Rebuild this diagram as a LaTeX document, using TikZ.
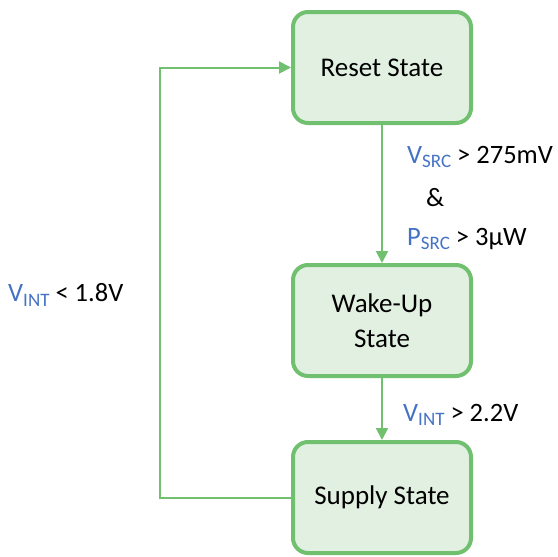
\documentclass[tikz,border=0pt]{standalone}
\usepackage{fontspec}
\setmainfont{Carlito}
\usetikzlibrary{positioning, arrows.meta}
\definecolor{stgreen}{RGB}{112,192,112}
\definecolor{stfill}{RGB}{226,240,226}
\definecolor{sigblue}{RGB}{68,114,196}
\newcommand{\sig}[2]{{\color{sigblue}#1\raisebox{-0.35ex}{\fontsize{19}{19}\selectfont #2}}}

\begin{document}
\begin{tikzpicture}[x=1pt,y=-1pt,
    state/.style={draw=stgreen, line width=4pt, fill=stfill, rounded corners=15pt,
      minimum width=178pt, minimum height=111pt, align=center,
      font=\fontsize{27}{35}\selectfont},
    trans/.style={stgreen, line width=2pt, -{Triangle[length=12pt,width=12pt]}},
    cond/.style={anchor=west, inner sep=0pt, font=\fontsize{26.5}{30}\selectfont}]
    \useasboundingbox (0,0) rectangle (558,557);
    % states
    \node[state] (reset) at (382,67.5) {Reset State};
    \node[state] (wake) at (382,320.5) {Wake-Up\\State};
    \node[state] (supply) at (382,497.5) {Supply State};
    % transitions
    \draw[trans] (reset) -- (wake);
    \draw[trans] (wake) -- (supply);
    \coordinate (loop) at (160,497.5);
    \draw[trans] (supply.west) -- (loop) |- (reset.west);
    % conditions
    \node[cond] (vsrc) at (407,157) {\sig{V}{SRC} > 275mV};
    \node[cond] (amp) at (426,198) {\&};
    \node[cond] (psrc) at (407,239) {\sig{P}{SRC} > 3μW};
    \node[cond] (vhigh) at (403,415) {\sig{V}{INT} > 2.2V};
    \node[cond] (vlow) at (8,295) {\sig{V}{INT} < 1.8V};
\end{tikzpicture}
\end{document}
